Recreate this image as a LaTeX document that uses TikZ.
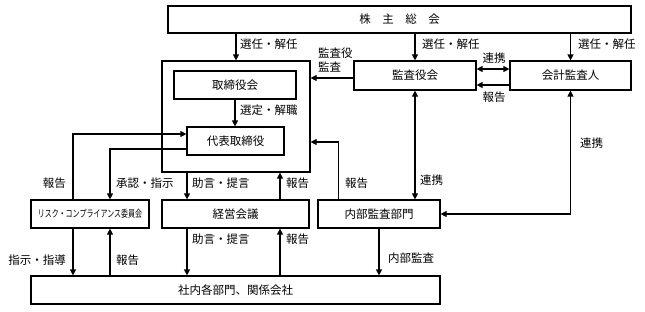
\documentclass[tikz,border=0pt]{standalone}
\usepackage{fontspec}
\setmainfont{Noto Sans CJK JP}
\usepackage{graphicx}
\usetikzlibrary{arrows.meta}
\begin{document}
\begin{tikzpicture}[x=1pt,y=-1pt,
  box/.style={draw,line width=1.2pt,inner sep=0pt,font=\fontsize{11.5}{13}\selectfont},
  lbl/.style={inner sep=0pt,font=\fontsize{11.5}{14}\selectfont},
  conn/.style={line width=1.2pt},
  arr/.style={conn,-{Triangle[length=6pt,width=6pt]}},
  barr/.style={conn,{Triangle[length=6pt,width=6pt]}-{Triangle[length=6pt,width=6pt]}}]
\useasboundingbox (0,0) rectangle (645,311);
% boxes
\node[box,minimum width=463pt,minimum height=27pt] (sh) at (399.5,19.5) {株　主　総　会};
\node[box,minimum width=148pt,minimum height=111pt] (outer) at (236,116.5) {};
\node[box,minimum width=122pt,minimum height=28pt] (tb) at (235,85) {取締役会};
\node[box,minimum width=97pt,minimum height=28pt] (dh) at (235.5,141) {代表取締役};
\node[box,minimum width=118pt,minimum height=28pt] (risk) at (90,214) {\fontsize{10}{12}\selectfont\scalebox{0.7}[1]{リスク・コンプライアンス委員会}};
\node[box,minimum width=147pt,minimum height=28pt] (kk) at (235.5,214) {経営会議};
\node[box,minimum width=122pt,minimum height=28pt] (nb) at (379,214) {内部監査部門};
\node[box,minimum width=122pt,minimum height=29pt] (ka) at (415,75.5) {監査役会};
\node[box,minimum width=121pt,minimum height=29pt] (ak) at (570.5,75.5) {会計監査人};
\node[box,minimum width=409pt,minimum height=28pt] (sn) at (235.5,290) {社内各部門、関係会社};
% connectors
\draw[arr] (sh.south -| outer.north) -- (outer.north);
\draw[arr] (sh.south -| ka.north) -- (ka.north);
\draw[arr] (sh.south -| ak.north) -- (ak.north);
\draw[arr] (tb.south) -- (tb.south |- dh.north);
\draw[arr] ([yshift=-2.5pt]ka.west) -- ([yshift=-2.5pt]ka.west -| outer.east);
\draw[barr] ([yshift=6.5pt]ka.east) -- ([yshift=6.5pt]ka.east -| ak.west);
\draw[arr] ([yshift=-9.5pt]ak.west) -- ([yshift=-9.5pt]ak.west -| ka.east);
\draw[barr] (ka.south) -- (ka.south |- nb.north);
\draw[barr] (ak.south) |- (nb.east);
\draw[arr] ([xshift=21pt]nb.north west) |- ([yshift=-25.5pt]outer.east);
\draw[arr] (nb.south) -- (nb.south |- sn.north);
\draw[arr] ([xshift=-49pt]outer.south) -- ([xshift=-49pt]outer.south |- kk.north);
\draw[arr] ([xshift=44pt]outer.south |- kk.north) -- ([xshift=44pt]outer.south);
\draw[arr] ([xshift=-48.5pt]kk.south) -- ([xshift=-48.5pt]kk.south |- sn.north);
\draw[arr] ([xshift=44.5pt]kk.south |- sn.north) -- ([xshift=44.5pt]kk.south);
\draw[arr] ([yshift=-8pt]dh.west) -| ([xshift=20pt]risk.north);
\draw[arr] ([xshift=-17pt]risk.north) |- ([yshift=7pt]dh.west);
\draw[arr] ([xshift=-17pt]risk.south) -- ([xshift=-17pt]risk.south |- sn.north);
\draw[arr] ([xshift=20pt]risk.south |- sn.north) -- ([xshift=20pt]risk.south);
% labels
\node[lbl,anchor=west] (l1) at (240,44) {選任・解任};
\node[lbl,anchor=west] (l2) at (422,44) {選任・解任};
\node[lbl,anchor=west] (l3) at (578,44) {選任・解任};
\node[lbl,anchor=west,align=left,font=\fontsize{11.5}{14}\selectfont] (l4) at (318,60) {監査役\\監査};
\node[lbl] (l5) at (494,58) {連携};
\node[lbl] (l6) at (494,97) {報告};
\node[lbl,anchor=west] (l7) at (240,110) {選定・解職};
\node[lbl,anchor=west] (l8) at (580,143) {連携};
\node[lbl,anchor=east] (l9) at (66,183) {報告};
\node[lbl,anchor=west] (l10) at (116,183) {承認・指示};
\node[lbl,anchor=west] (l11) at (192,183) {助言・提言};
\node[lbl,anchor=west] (l12) at (286,183) {報告};
\node[lbl,anchor=west] (l13) at (345,183) {報告};
\node[lbl,anchor=west] (l14) at (420,180) {連携};
\node[lbl,anchor=east] (l15) at (66,260) {指示・指導};
\node[lbl,anchor=west] (l16) at (116,260) {報告};
\node[lbl,anchor=west] (l17) at (192,239) {助言・提言};
\node[lbl,anchor=west] (l18) at (286,239) {報告};
\node[lbl,anchor=west] (l19) at (388,258) {内部監査};
\end{tikzpicture}
\end{document}
